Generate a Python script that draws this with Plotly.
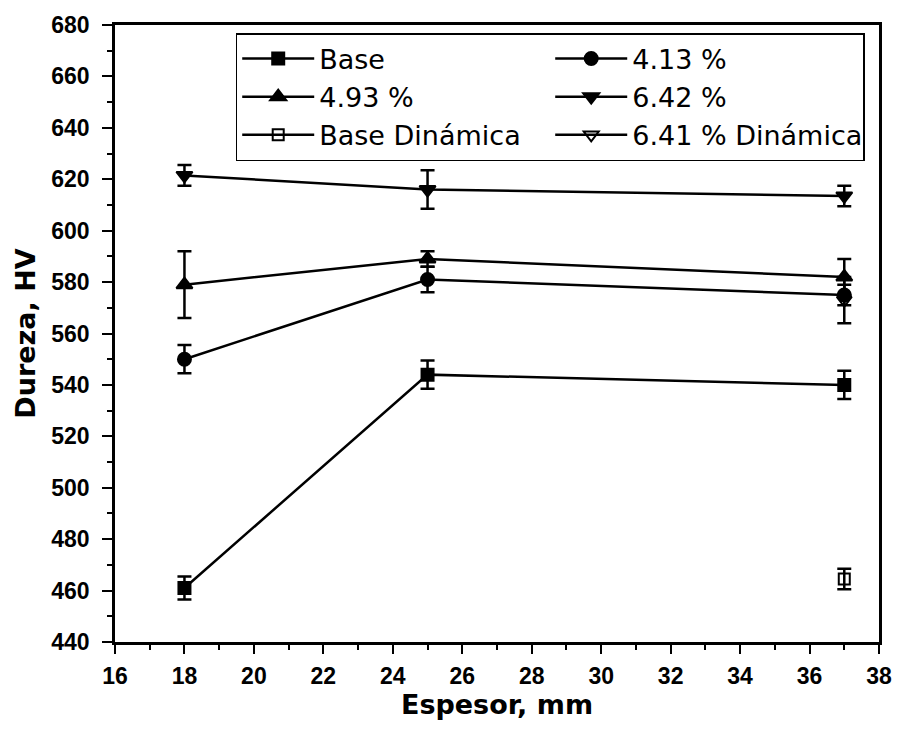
import plotly.graph_objects as go

# Espesor (mm) y dureza Vickers (HV) con su desviación
espesor = [18, 25, 37]

base = [461, 544, 540]
base_err = [4.5, 5.5, 5.5]

p413 = [550, 581, 575]
p413_err = [5.5, 5, 4]

p493 = [579, 589, 582]
p493_err = [13, 3, 7]

p642 = [621.5, 616, 613.5]
p642_err = [4, 7.5, 4]

espesor_din = [37]
base_din = [464.5]
base_din_err = [4]
p641_din = [573]
p641_din_err = [9]

series = [
    ("Base", espesor, base, base_err, "square", 12),
    ("4.13 %", espesor, p413, p413_err, "circle", 13),
    ("4.93 %", espesor, p493, p493_err, "triangle-up", 14),
    ("6.42 %", espesor, p642, p642_err, "triangle-down", 14),
    ("Base Dinámica", espesor_din, base_din, base_din_err, "square-open", 11),
    ("6.41 % Dinámica", espesor_din, p641_din, p641_din_err, "triangle-down-open", 13),
]

fig = go.Figure()
for name, xs, ys, err, sym, size in series:
    fig.add_trace(go.Scatter(
        x=xs, y=ys, name=name, mode="lines+markers",
        line=dict(color="black", width=2.5),
        marker=dict(symbol=sym, size=size, color="black",
                    line=dict(color="black", width=2)),
        error_y=dict(type="data", array=err, visible=True,
                     color="black", thickness=2.5, width=7),
    ))

axis_font = dict(family="Liberation Sans, Arial", size=23, color="black", weight="bold")
title_font = dict(family="DejaVu Sans", size=27, color="black", weight="bold")

fig.update_layout(
    width=904, height=744,
    margin=dict(l=115, r=17, t=20, b=102),
    plot_bgcolor="white", paper_bgcolor="white",
    showlegend=True,
    legend=dict(
        x=0.158, y=0.987, xanchor="left", yanchor="top",
        orientation="h", entrywidth=226, entrywidthmode="pixels",
        bgcolor="white", bordercolor="black", borderwidth=1.5,
        font=dict(family="DejaVu Sans", size=27, color="black"),
        itemwidth=72, tracegroupgap=0,
    ),
    xaxis=dict(
        range=[16, 38], tickmode="linear", tick0=16, dtick=2,
        ticks="outside", ticklen=9, tickwidth=2, tickcolor="black",
        minor=dict(ticks="outside", ticklen=5, tickwidth=2, tickcolor="black", dtick=1),
        showline=True, linecolor="black", linewidth=2.5, mirror=True,
        showgrid=False, zeroline=False,
        tickfont=axis_font, ticklabelstandoff=3,
        title=dict(text="Espesor, mm", font=title_font, standoff=6),
    ),
    yaxis=dict(
        range=[440, 680], tickmode="linear", tick0=440, dtick=20,
        ticks="outside", ticklen=10, tickwidth=2, tickcolor="black",
        minor=dict(ticks="outside", ticklen=5, tickwidth=2, tickcolor="black", dtick=10),
        showline=True, linecolor="black", linewidth=2.5, mirror=True,
        showgrid=False, zeroline=False,
        tickfont=axis_font, ticklabelstandoff=8,
        title=dict(text="Dureza, HV", font=title_font, standoff=8),
    ),
)

fig.write_html("out.html")
